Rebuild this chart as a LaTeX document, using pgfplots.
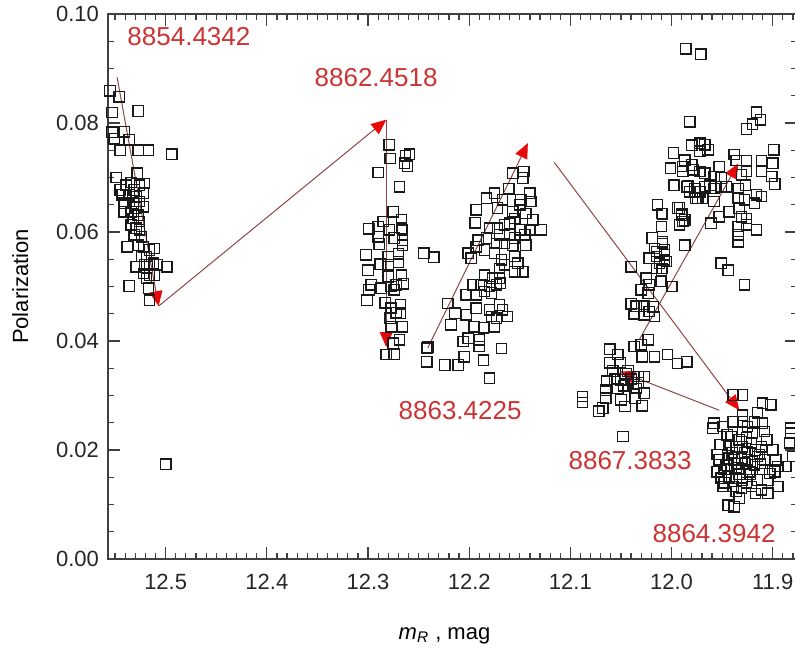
\documentclass[border=0pt]{standalone}
\usepackage{pgfplots}
\usepackage{pgfplotstable}
\pgfplotsset{compat=1.18}
\usepackage{fontspec}
\setmainfont{Liberation Sans}
\usetikzlibrary{arrows.meta}
\definecolor{lblred}{RGB}{204,51,51}
\definecolor{arrline}{RGB}{140,70,70}
\definecolor{arrhead}{RGB}{232,10,10}

\pgfplotstableread{
x y
12.555 0.0859
12.546 0.0848
12.553 0.0819
12.527 0.0822
12.553 0.0783
12.551 0.0771
12.541 0.0784
12.536 0.0769
12.545 0.0750
12.527 0.0750
12.517 0.0750
12.494 0.0743
12.549 0.0700
12.528 0.0708
12.545 0.0677
12.539 0.0686
12.534 0.0691
12.531 0.0677
12.526 0.0686
12.521 0.0689
12.522 0.0671
12.543 0.0668
12.536 0.0668
12.529 0.0665
12.541 0.0653
12.532 0.0653
12.526 0.0656
12.522 0.0646
12.541 0.0637
12.534 0.0637
12.529 0.0644
12.532 0.0625
12.527 0.0631
12.526 0.0619
12.534 0.0613
12.529 0.0607
12.526 0.0604
12.531 0.0595
12.524 0.0591
12.538 0.0573
12.527 0.0576
12.522 0.0573
12.516 0.0567
12.511 0.0570
12.519 0.0555
12.524 0.0555
12.529 0.0536
12.521 0.0540
12.516 0.0540
12.512 0.0543
12.508 0.0540
12.499 0.0536
12.522 0.0524
12.516 0.0521
12.511 0.0521
12.519 0.0515
12.536 0.0501
12.517 0.0497
12.516 0.0475
12.500 0.0174
12.279 0.0760
12.278 0.0735
12.259 0.0743
12.264 0.0726
12.261 0.0721
12.263 0.0740
12.290 0.0709
12.269 0.0683
12.275 0.0637
12.267 0.0622
12.285 0.0619
12.290 0.0610
12.299 0.0606
12.279 0.0604
12.267 0.0607
12.266 0.0604
12.290 0.0591
12.274 0.0589
12.266 0.0585
12.289 0.0578
12.266 0.0576
12.270 0.0560
12.280 0.0555
12.302 0.0558
12.245 0.0561
12.235 0.0554
12.288 0.0541
12.280 0.0540
12.270 0.0545
12.300 0.0530
12.267 0.0521
12.280 0.0518
12.297 0.0503
12.287 0.0497
12.277 0.0500
12.272 0.0503
12.265 0.0505
12.274 0.0494
12.299 0.0494
12.301 0.0475
12.283 0.0470
12.268 0.0467
12.277 0.0460
12.272 0.0452
12.268 0.0451
12.278 0.0442
12.266 0.0426
12.277 0.0426
12.269 0.0402
12.275 0.0396
12.282 0.0375
12.274 0.0376
12.242 0.0387
12.157 0.0708
12.146 0.0711
12.147 0.0699
12.161 0.0679
12.175 0.0671
12.183 0.0662
12.167 0.0659
12.149 0.0659
12.140 0.0671
12.139 0.0656
12.150 0.0650
12.193 0.0641
12.172 0.0644
12.157 0.0637
12.144 0.0634
12.137 0.0622
12.155 0.0625
12.194 0.0617
12.180 0.0607
12.172 0.0607
12.165 0.0613
12.160 0.0616
12.149 0.0604
12.140 0.0604
12.129 0.0604
12.191 0.0585
12.183 0.0589
12.173 0.0579
12.170 0.0595
12.160 0.0595
12.155 0.0589
12.145 0.0595
12.144 0.0576
12.157 0.0576
12.165 0.0579
12.201 0.0561
12.193 0.0573
12.185 0.0567
12.175 0.0561
12.168 0.0549
12.155 0.0555
12.152 0.0543
12.165 0.0540
12.198 0.0552
12.170 0.0533
12.155 0.0527
12.147 0.0527
12.185 0.0521
12.177 0.0515
12.170 0.0515
12.196 0.0503
12.188 0.0503
12.180 0.0500
12.173 0.0503
12.169 0.0506
12.203 0.0485
12.193 0.0485
12.185 0.0491
12.178 0.0488
12.221 0.0469
12.193 0.0460
12.180 0.0457
12.170 0.0466
12.167 0.0457
12.214 0.0451
12.203 0.0448
12.178 0.0445
12.173 0.0442
12.162 0.0445
12.218 0.0430
12.195 0.0426
12.186 0.0424
12.175 0.0426
12.201 0.0405
12.206 0.0399
12.190 0.0402
12.190 0.0390
12.168 0.0386
12.241 0.0389
12.205 0.0371
12.242 0.0362
12.224 0.0356
12.211 0.0356
12.186 0.0365
12.180 0.0332
11.997 0.0686
11.984 0.0684
11.977 0.0674
11.974 0.0662
12.014 0.0650
12.010 0.0634
11.992 0.0644
11.990 0.0634
11.989 0.0619
12.010 0.0610
12.019 0.0589
12.009 0.0582
11.987 0.0576
12.017 0.0570
12.007 0.0567
12.022 0.0552
12.015 0.0555
12.007 0.0549
12.012 0.0543
12.015 0.0533
12.009 0.0533
12.010 0.0509
12.040 0.0536
12.025 0.0515
12.000 0.0500
12.030 0.0494
12.022 0.0503
12.023 0.0488
12.040 0.0468
12.035 0.0464
12.027 0.0464
12.018 0.0463
12.037 0.0450
12.027 0.0448
12.017 0.0445
12.022 0.0454
12.023 0.0402
12.030 0.0393
12.037 0.0390
12.029 0.0371
12.017 0.0371
12.004 0.0375
11.994 0.0359
11.985 0.0362
12.061 0.0385
12.053 0.0375
12.061 0.0360
12.051 0.0360
12.064 0.0326
12.056 0.0330
12.050 0.0329
12.045 0.0340
12.040 0.0330
12.038 0.0320
12.043 0.0345
12.058 0.0345
12.047 0.0318
12.033 0.0335
12.027 0.0335
12.065 0.0310
12.053 0.0313
12.033 0.0323
12.035 0.0313
12.027 0.0304
12.065 0.0295
12.050 0.0292
12.036 0.0295
12.088 0.0298
12.088 0.0287
12.068 0.0277
12.072 0.0271
12.046 0.0280
12.029 0.0281
12.048 0.0225
11.986 0.0936
11.971 0.0926
11.982 0.0802
11.916 0.0820
11.912 0.0806
11.920 0.0798
11.926 0.0789
11.899 0.0751
11.900 0.0726
11.911 0.0731
11.911 0.0711
11.901 0.0702
11.898 0.0688
11.998 0.0745
11.980 0.0759
11.972 0.0763
11.967 0.0760
11.972 0.0748
11.964 0.0751
11.987 0.0732
11.989 0.0720
11.980 0.0723
12.001 0.0717
11.989 0.0711
11.979 0.0714
11.972 0.0711
11.967 0.0708
11.953 0.0720
11.938 0.0742
11.936 0.0731
11.926 0.0731
11.926 0.0711
11.931 0.0705
11.958 0.0702
11.951 0.0699
11.998 0.0686
11.985 0.0683
11.982 0.0674
11.977 0.0680
11.972 0.0674
11.967 0.0683
11.962 0.0686
11.958 0.0680
11.951 0.0683
11.946 0.0683
11.976 0.0662
11.969 0.0662
11.958 0.0656
11.934 0.0680
11.927 0.0686
11.934 0.0662
11.928 0.0659
11.916 0.0668
11.911 0.0665
11.918 0.0653
12.009 0.0633
11.994 0.0644
11.990 0.0631
11.987 0.0622
11.992 0.0613
11.953 0.0628
11.961 0.0616
11.943 0.0637
11.933 0.0644
11.931 0.0628
11.926 0.0625
11.934 0.0610
11.926 0.0613
11.934 0.0595
11.934 0.0582
11.916 0.0604
12.009 0.0579
12.015 0.0564
12.007 0.0558
12.005 0.0546
12.012 0.0543
12.010 0.0530
11.987 0.0576
11.951 0.0543
11.944 0.0530
11.928 0.0503
12.011 0.0509
11.999 0.0500
11.939 0.0301
11.930 0.0301
11.930 0.0264
11.930 0.0252
11.939 0.0252
11.958 0.0249
11.949 0.0243
11.959 0.0240
11.930 0.0234
11.941 0.0225
11.933 0.0219
11.926 0.0222
11.943 0.0209
11.936 0.0206
11.930 0.0206
11.953 0.0182
11.944 0.0185
11.938 0.0182
11.931 0.0185
11.925 0.0182
11.948 0.0164
11.941 0.0164
11.934 0.0167
11.926 0.0164
11.951 0.0148
11.943 0.0151
11.936 0.0148
11.930 0.0145
11.949 0.0133
11.939 0.0133
11.931 0.0130
11.933 0.0112
11.944 0.0099
11.938 0.0096
11.910 0.0286
11.902 0.0283
11.915 0.0268
11.918 0.0252
11.910 0.0249
11.925 0.0243
11.920 0.0231
11.908 0.0234
11.906 0.0219
11.921 0.0213
11.911 0.0206
11.925 0.0197
11.915 0.0188
11.908 0.0182
11.897 0.0182
11.887 0.0170
11.895 0.0170
11.918 0.0173
11.910 0.0164
11.923 0.0160
11.903 0.0157
11.915 0.0145
11.905 0.0145
11.895 0.0133
11.921 0.0133
11.911 0.0127
11.905 0.0121
11.882 0.0240
11.882 0.0231
11.883 0.0213
11.880 0.0188
11.928 0.0195
11.920 0.0178
11.913 0.0192
11.935 0.0175
11.946 0.0172
11.922 0.0155
11.917 0.0200
11.940 0.0195
11.927 0.0175
11.912 0.0175
11.933 0.0155
11.945 0.0228
11.952 0.0210
11.955 0.0192
11.948 0.0140
11.926 0.0140
11.917 0.0120
11.936 0.0124
11.955 0.0160
11.900 0.0200
11.898 0.0160
}\pointsdata

\begin{document}
\begin{tikzpicture}
\begin{axis}[
  scale only axis,
  width=344.5pt, height=272.5pt,
  x dir=reverse,
  xmin=11.876, xmax=12.557,
  ymin=0, ymax=0.10,
  xtick={11.9,12.0,12.1,12.2,12.3,12.4,12.5},
  minor xtick={11.88,11.89,11.91,11.92,11.93,11.94,11.95,11.96,11.97,11.98,11.99,12.01,12.02,12.03,12.04,12.05,12.06,12.07,12.08,12.09,12.11,12.12,12.13,12.14,12.15,12.16,12.17,12.18,12.19,12.21,12.22,12.23,12.24,12.25,12.26,12.27,12.28,12.29,12.31,12.32,12.33,12.34,12.35,12.36,12.37,12.38,12.39,12.41,12.42,12.43,12.44,12.45,12.46,12.47,12.48,12.49,12.51,12.52,12.53,12.54,12.55},
  ytick={0,0.02,0.04,0.06,0.08,0.10},
  minor y tick num=3,
  xtick pos=both, ytick pos=both,
  xmajorticks=true, xminorticks=true,
  tick align=inside,
  major tick length=6pt,
  minor tick length=3pt,
  scaled x ticks=false, scaled y ticks=false,
  x tick label style={/pgf/number format/fixed,/pgf/number format/fixed zerofill,/pgf/number format/precision=1,/pgf/number format/assume math mode=true, yshift=-4pt},
  y tick label style={/pgf/number format/fixed,/pgf/number format/fixed zerofill,/pgf/number format/precision=2,/pgf/number format/assume math mode=true, xshift=-1pt},
  tick label style={font=\fontsize{11}{13}\selectfont, text=black!85},
  every tick/.style={black!75, line width=0.6pt},
  axis line style={black!75, line width=0.7pt},
  xlabel={\textit{m}\textsubscript{\textit{R}} , mag},
  ylabel={Polarization},
  label style={font=\fontsize{11}{13}\selectfont},
  xlabel style={yshift=-12pt, xshift=-4pt},
  ylabel style={yshift=7pt},
]
\addplot[only marks, mark=square, mark size=2.6pt, mark options={line width=0.65pt, draw=black!90}] table[x=x,y=y] {\pointsdata};

\addplot[arrline, line width=0.5pt, -{Triangle[length=7.5pt,width=6.5pt,fill=arrhead,color=arrhead]}] coordinates {(12.548,0.0884) (12.507,0.0464)};
\addplot[arrline, line width=0.5pt, -{Triangle[length=7.5pt,width=6.5pt,fill=arrhead,color=arrhead]}] coordinates {(12.507,0.0464) (12.282,0.0806)};
\addplot[arrline, line width=0.5pt, -{Triangle[length=7.5pt,width=6.5pt,fill=arrhead,color=arrhead]}] coordinates {(12.282,0.0806) (12.282,0.0389)};
\addplot[arrline, line width=0.5pt, -{Triangle[length=7.5pt,width=6.5pt,fill=arrhead,color=arrhead]}] coordinates {(12.241,0.0387) (12.142,0.0763)};
\addplot[arrline, line width=0.5pt, -{Triangle[length=7.5pt,width=6.5pt,fill=arrhead,color=arrhead]}] coordinates {(12.116,0.0728) (11.933,0.0273)};
\addplot[arrline, line width=0.5pt, -{Triangle[length=7.5pt,width=6.5pt,fill=arrhead,color=arrhead]}] coordinates {(11.953,0.0273) (12.051,0.0344)};
\addplot[arrline, line width=0.5pt, -{Triangle[length=7.5pt,width=6.5pt,fill=arrhead,color=arrhead]}] coordinates {(12.032,0.0402) (11.934,0.0726)};

\node[text=lblred, font=\fontsize{13}{15}\selectfont] at (axis cs:12.477,0.0959) {8854.4342};
\node[text=lblred, font=\fontsize{13}{15}\selectfont] at (axis cs:12.292,0.0883) {8862.4518};
\node[text=lblred, font=\fontsize{13}{15}\selectfont] at (axis cs:12.209,0.0272) {8863.4225};
\node[text=lblred, font=\fontsize{13}{15}\selectfont] at (axis cs:12.041,0.0180) {8867.3833};
\node[text=lblred, font=\fontsize{13}{15}\selectfont] at (axis cs:11.958,0.0046) {8864.3942};
\end{axis}
\pgfresetboundingbox
\path[use as bounding box] (-54pt,-47.5pt) rectangle (343.5pt,279.5pt);
\end{tikzpicture}
\end{document}
